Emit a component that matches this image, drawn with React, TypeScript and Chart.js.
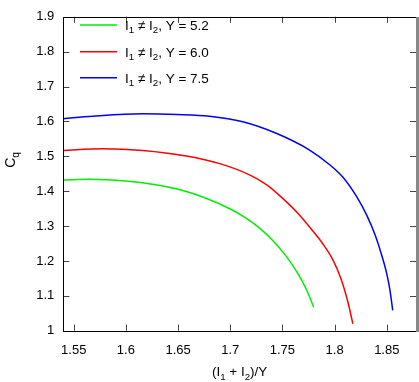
import React, { useEffect, useRef } from 'react';
import { Chart, registerables } from 'chart.js';

Chart.register(...registerables);

const FONT = '"Liberation Sans", Arial, Helvetica, sans-serif';

const xTicks = [1.55, 1.6, 1.65, 1.7, 1.75, 1.8, 1.85];
const yTicks = [1, 1.1, 1.2, 1.3, 1.4, 1.5, 1.6, 1.7, 1.8, 1.9];

const seriesY = ['5.2', '6.0', '7.5'];
const seriesColors = ['#00ee00', '#ff0000', '#0000ff'];

const greenX = [1.540, 1.565, 1.600, 1.630, 1.652, 1.675, 1.700, 1.714, 1.727, 1.740, 1.753, 1.765, 1.773, 1.780];
const greenY = [1.432, 1.434, 1.429, 1.418, 1.404, 1.382, 1.349, 1.325, 1.297, 1.261, 1.216, 1.163, 1.118, 1.067];

const redX = [1.540, 1.578, 1.616, 1.658, 1.690, 1.719, 1.735, 1.750, 1.765, 1.778, 1.789, 1.798, 1.806, 1.8125, 1.8175];
const redY = [1.517, 1.522, 1.517, 1.501, 1.479, 1.446, 1.418, 1.380, 1.336, 1.290, 1.248, 1.205, 1.150, 1.085, 1.020];

const blueX = [1.540, 1.568, 1.616, 1.649, 1.680, 1.712, 1.744, 1.776, 1.7956, 1.808, 1.821, 1.831, 1.839, 1.845, 1.850, 1.853, 1.8557];
const blueY = [1.608, 1.615, 1.622, 1.620, 1.615, 1.599, 1.566, 1.518, 1.475, 1.440, 1.385, 1.330, 1.273, 1.218, 1.163, 1.117, 1.058];

const seriesXs = [greenX, redX, blueX];
const seriesYs = [greenY, redY, blueY];

type Part = { t: string; sub?: boolean };

function drawRich(ctx: CanvasRenderingContext2D, parts: Part[], x: number, y: number, size: number, align: 'left' | 'center') {
  const subSize = size * 0.72;
  const widths = parts.map((p) => {
    ctx.font = `${p.sub ? subSize : size}px ${FONT}`;
    return ctx.measureText(p.t).width;
  });
  const total = widths.reduce((a, b) => a + b, 0);
  let cx = align === 'center' ? x - total / 2 : x;
  ctx.textAlign = 'left';
  ctx.textBaseline = 'alphabetic';
  parts.forEach((p, i) => {
    ctx.font = `${p.sub ? subSize : size}px ${FONT}`;
    ctx.fillText(p.t, cx, y + (p.sub ? size * 0.27 : 0));
    cx += widths[i];
  });
}

const legendParts = (v: string): Part[] => [
  { t: 'I' }, { t: '1', sub: true }, { t: ' \u2260 I' }, { t: '2', sub: true }, { t: ', Y = ' + v },
];
const xTitleParts: Part[] = [{ t: '(I' }, { t: '1', sub: true }, { t: ' + I' }, { t: '2', sub: true }, { t: ')/Y' }];
const yTitleParts: Part[] = [{ t: 'C' }, { t: 'q', sub: true }];

const decorPlugin = {
  id: 'decor',
  afterDraw(chart: any) {
    const ctx: CanvasRenderingContext2D = chart.ctx;
    const { left, right, top, bottom } = chart.chartArea;
    const xs = chart.scales.x;
    const ys = chart.scales.y;
    ctx.save();
    // inward ticks
    ctx.strokeStyle = '#444';
    ctx.lineWidth = 1;
    ctx.beginPath();
    xTicks.forEach((v) => {
      const px = Math.round(xs.getPixelForValue(v)) + 0.5;
      ctx.moveTo(px, bottom);
      ctx.lineTo(px, bottom - 6);
      ctx.moveTo(px, top);
      ctx.lineTo(px, top + 6);
    });
    yTicks.forEach((v) => {
      const py = Math.round(ys.getPixelForValue(v)) + 0.5;
      ctx.moveTo(left, py);
      ctx.lineTo(left + 6, py);
      ctx.moveTo(right, py);
      ctx.lineTo(right - 6, py);
    });
    ctx.stroke();
    // frame
    ctx.strokeStyle = '#000';
    ctx.lineWidth = 1;
    ctx.beginPath();
    ctx.moveTo(Math.round(right), Math.round(top) + 0.5);
    ctx.lineTo(Math.round(left) + 0.5, Math.round(top) + 0.5);
    ctx.lineTo(Math.round(left) + 0.5, Math.round(bottom) + 0.5);
    ctx.lineTo(Math.round(right), Math.round(bottom) + 0.5);
    ctx.stroke();
    ctx.fillStyle = '#888';
    ctx.fillRect(Math.round(right), Math.round(top), 3, Math.round(bottom) - Math.round(top) + 1);
    // legend
    const rows = [25, 51.7, 77.7];
    seriesY.forEach((v, i) => {
      ctx.strokeStyle = seriesColors[i];
      ctx.lineWidth = 1.5;
      ctx.beginPath();
      ctx.moveTo(80, rows[i]);
      ctx.lineTo(117, rows[i]);
      ctx.stroke();
      ctx.fillStyle = '#000';
      drawRich(ctx, legendParts(v), 125, rows[i] + 4.8, 13.5, 'left');
    });
    // axis titles
    ctx.fillStyle = '#000';
    drawRich(ctx, xTitleParts, (left + right) / 2, 376, 13.5, 'center');
    ctx.save();
    ctx.translate(15, 160);
    ctx.rotate(-Math.PI / 2);
    drawRich(ctx, yTitleParts, 0, 0, 14, 'center');
    ctx.restore();
    ctx.restore();
  },
};

export default function App() {
  const ref = useRef<HTMLCanvasElement>(null);
  useEffect(() => {
    if (!ref.current) return;
    const datasets = seriesY.map((v, i) => ({
      label: 'Y = ' + v,
      data: seriesXs[i].map((x, j) => ({ x, y: seriesYs[i][j] })),
      borderColor: seriesColors[i],
      backgroundColor: seriesColors[i],
      borderWidth: 1.5,
      pointRadius: 0,
      showLine: true,
      fill: false,
      cubicInterpolationMode: 'monotone' as const,
    }));
    const fmt = (v: any) => String(Number(Number(v).toFixed(2)));
    const chart = new Chart(ref.current, {
      type: 'scatter',
      data: { datasets },
      options: {
        animation: false,
        responsive: false,
        layout: { padding: { top: 7, right: 3, left: 0, bottom: 0 } },
        plugins: { legend: { display: false }, tooltip: { enabled: false } },
        scales: {
          x: {
            type: 'linear',
            min: 1.54,
            max: 1.878,
            afterBuildTicks: (s: any) => { s.ticks = xTicks.map((value) => ({ value })); },
            afterFit: (s: any) => { s.height = 51.3; },
            grid: { display: false, drawTicks: false },
            border: { display: false },
            ticks: { color: '#000', padding: 12, font: { family: FONT, size: 13 }, callback: fmt, maxRotation: 0, autoSkip: false },
          },
          y: {
            type: 'linear',
            min: 1,
            max: 1.9,
            afterBuildTicks: (s: any) => { s.ticks = yTicks.map((value) => ({ value })); },
            afterFit: (s: any) => { s.width = 63.3; },
            grid: { display: false, drawTicks: false },
            border: { display: false },
            ticks: { color: '#000', padding: 9, font: { family: FONT, size: 13 }, callback: fmt, autoSkip: false },
          },
        },
      },
      plugins: [decorPlugin],
    });
    return () => chart.destroy();
  }, []);
  return (
    <div style={{ position: 'absolute', left: 0, top: 0, width: 419, height: 382, background: '#fff' }}>
      <canvas ref={ref} width={419} height={382} style={{ width: 419, height: 382 }} />
    </div>
  );
}
